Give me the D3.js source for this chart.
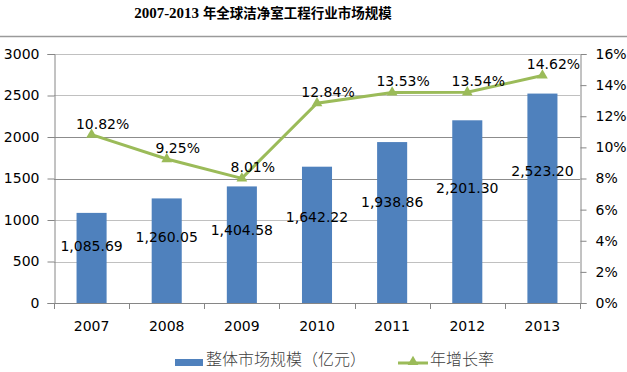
<!DOCTYPE html>
<html>
<head>
<meta charset="utf-8">
<script src="https://cdn.jsdelivr.net/npm/d3@7"></script>
<style>
  body { margin: 0; background: #fff; }
  svg { display: block; }
</style>
</head>
<body>
<div id="chart"></div>
<script>
var years = ["2007", "2008", "2009", "2010", "2011", "2012", "2013"];
var marketSize = [1085.69, 1260.05, 1404.58, 1642.22, 1938.86, 2201.30, 2523.20];
var growthRate = [0.1082, 0.0925, 0.0801, 0.1284, 0.1353, 0.1354, 0.1462];
var leftTicks = [0, 500, 1000, 1500, 2000, 2500, 3000];
var rightTicks = [0, 0.02, 0.04, 0.06, 0.08, 0.10, 0.12, 0.14, 0.16];

var W = 627, H = 372;
var margin = {top: 54, right: 47, bottom: 69, left: 54},
    width = W - margin.left - margin.right,
    height = H - margin.top - margin.bottom;

var latin = "'DejaVu Sans', Verdana, sans-serif";
var cjk = "'Noto Sans CJK SC', sans-serif";

var svg = d3.select("#chart").append("svg")
    .attr("width", W)
    .attr("height", H);

// title + frame line
var title = svg.append("text")
    .attr("x", 263)
    .attr("y", 18)
    .attr("text-anchor", "middle")
    .style("font-weight", "bold")
    .style("fill", "#000");
title.append("tspan")
    .style("font-family", "'Liberation Serif', serif")
    .style("font-size", "15px")
    .text("2007-2013 ");
title.append("tspan")
    .style("font-family", cjk)
    .style("font-size", "13.5px")
    .text("年全球洁净室工程行业市场规模");

svg.append("line")
    .attr("x1", 0).attr("x2", W)
    .attr("y1", 36.5).attr("y2", 36.5)
    .style("stroke", "#9a9a9a")
    .style("stroke-width", 1.5);

var canvas = svg.append("g")
    .attr("transform", "translate(" + margin.left + "," + margin.top + ")");

var xScale = d3.scaleBand()
    .domain(years)
    .range([0, width])
    .paddingInner(0.6)
    .paddingOuter(0.3);

var yLeft = d3.scaleLinear().domain([0, 3000]).range([height, 0]);
var yRight = d3.scaleLinear().domain([0, 0.16]).range([height, 0]);

// gridlines
canvas.append("g")
    .selectAll("line")
    .data(leftTicks.slice(1))
    .enter().append("line")
    .attr("x1", 0).attr("x2", width)
    .attr("y1", function (d) { return Math.round(yLeft(d)) + 0.5; })
    .attr("y2", function (d) { return Math.round(yLeft(d)) + 0.5; })
    .style("stroke", function (d) { return (d == 1500 || d == 2000) ? "#8c8c8c" : "#c0c0c0"; })
    .style("stroke-width", 1);

// bars
canvas.selectAll(".bar")
    .data(marketSize)
    .enter().append("rect")
    .attr("class", "bar")
    .attr("x", function (d, i) { return xScale(years[i]); })
    .attr("width", xScale.bandwidth())
    .attr("y", function (d) { return yLeft(d); })
    .attr("height", function (d) { return height - yLeft(d); })
    .style("fill", "#4f81bd");

// axes
var step = width / years.length;
var xAxisG = canvas.append("g")
    .attr("transform", "translate(0," + height + ")");
xAxisG.append("line")
    .attr("x1", 0).attr("x2", width)
    .attr("y1", 0.5).attr("y2", 0.5)
    .style("stroke", "#868686");
xAxisG.selectAll(".tk")
    .data(d3.range(years.length + 1))
    .enter().append("line")
    .attr("x1", function (i) { return Math.round(i * step) + 0.5; })
    .attr("x2", function (i) { return Math.round(i * step) + 0.5; })
    .attr("y1", 0).attr("y2", 6)
    .style("stroke", "#868686");
xAxisG.selectAll(".lbl")
    .data(years)
    .enter().append("text")
    .attr("x", function (d) { return xScale(d) + xScale.bandwidth() / 2; })
    .attr("y", 28)
    .attr("text-anchor", "middle")
    .style("font-family", latin)
    .style("font-size", "14px")
    .style("fill", "#000")
    .text(function (d) { return d; });

var yAxis = d3.axisLeft(yLeft).tickValues(leftTicks).tickSize(7).tickPadding(8)
    .tickFormat(d3.format("d"));
var yAxisG = canvas.append("g").attr("transform", "translate(0.5,0)").call(yAxis);

var yAxisR = d3.axisRight(yRight).tickValues(rightTicks).tickSize(6).tickPadding(9)
    .tickFormat(d3.format(".0%"));
var yAxisRG = canvas.append("g").attr("transform", "translate(" + (width + 0.5) + ",0)").call(yAxisR);

[yAxisG, yAxisRG].forEach(function (g) {
    g.selectAll("path,line").style("stroke", "#868686");
    g.selectAll("text")
        .style("font-family", latin)
        .style("font-size", "14px")
        .style("fill", "#000");
});

// growth line
var line = d3.line()
    .x(function (d, i) { return xScale(years[i]) + xScale.bandwidth() / 2; })
    .y(function (d) { return yRight(d); });

canvas.append("path")
    .datum(growthRate)
    .attr("d", line)
    .style("fill", "none")
    .style("stroke", "#9bbb59")
    .style("stroke-width", 3);

var tri = d3.symbol().type(d3.symbolTriangle).size(50);
canvas.selectAll(".marker")
    .data(growthRate)
    .enter().append("path")
    .attr("class", "marker")
    .attr("d", tri)
    .attr("transform", function (d, i) {
        return "translate(" + (xScale(years[i]) + xScale.bandwidth() / 2) + "," + yRight(d) + ")";
    })
    .style("fill", "#9bbb59");

// labels
canvas.selectAll(".vlabel")
    .data(marketSize)
    .enter().append("text")
    .attr("x", function (d, i) { return xScale(years[i]) + xScale.bandwidth() / 2; })
    .attr("y", function (d) { return yLeft(d * 0.63) + 5; })
    .attr("text-anchor", "middle")
    .style("font-family", latin)
    .style("font-size", "14px")
    .style("fill", "#000")
    .text(function (d) { return d3.format(",.2f")(d); });

canvas.selectAll(".plabel")
    .data(growthRate)
    .enter().append("text")
    .attr("x", function (d, i) { return xScale(years[i]) + xScale.bandwidth() / 2 + 11; })
    .attr("y", function (d) { return yRight(d) - 6; })
    .attr("text-anchor", "middle")
    .style("font-family", latin)
    .style("font-size", "14px")
    .style("fill", "#000")
    .text(function (d) { return d3.format(".2%")(d); });

// legend
var legend = svg.append("g");
legend.append("rect")
    .attr("x", 175).attr("y", 359)
    .attr("width", 28).attr("height", 7)
    .style("fill", "#4f81bd");
legend.append("text")
    .attr("x", 206).attr("y", 365)
    .style("font-family", cjk)
    .style("font-weight", 300)
    .style("font-size", "16px")
    .style("fill", "#404040")
    .text("整体市场规模（亿元）");
legend.append("line")
    .attr("x1", 398).attr("x2", 428)
    .attr("y1", 363).attr("y2", 363)
    .style("stroke", "#9bbb59")
    .style("stroke-width", 3);
legend.append("path")
    .attr("d", tri)
    .attr("transform", "translate(413,362)")
    .style("fill", "#9bbb59");
legend.append("text")
    .attr("x", 430).attr("y", 365)
    .style("font-family", cjk)
    .style("font-weight", 300)
    .style("font-size", "16px")
    .style("fill", "#404040")
    .text("年增长率");
</script>
</body>
</html>
